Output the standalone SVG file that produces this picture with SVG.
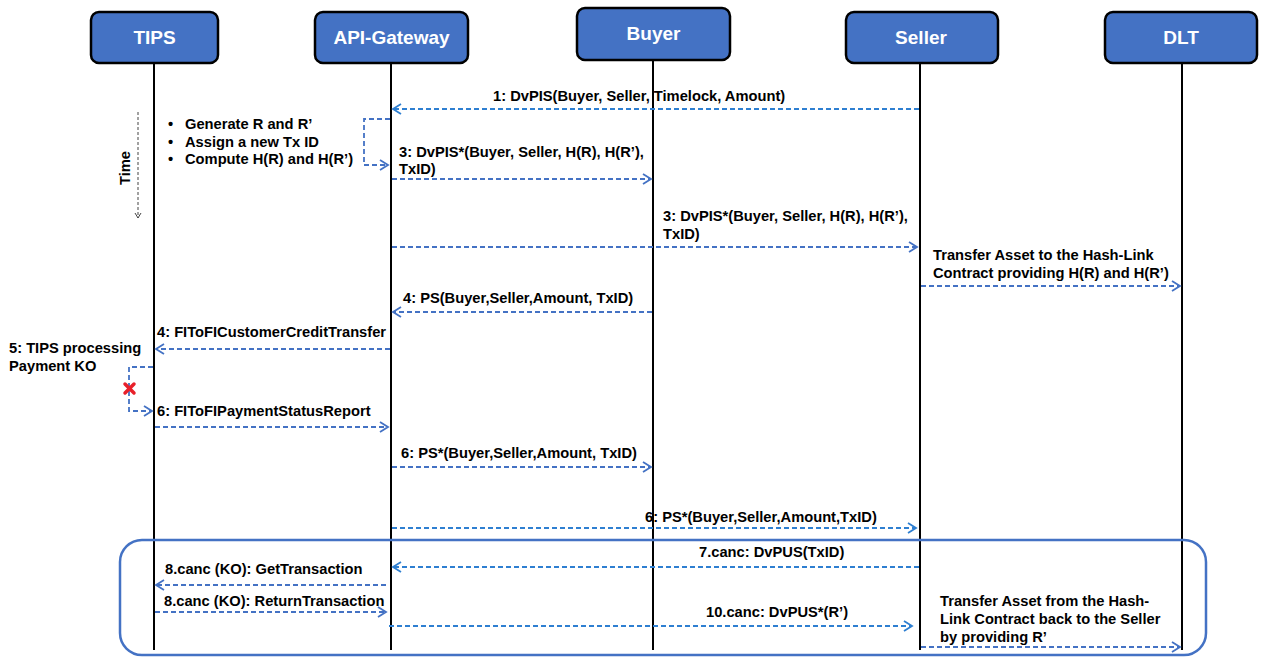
<svg xmlns="http://www.w3.org/2000/svg" width="1261" height="657" viewBox="0 0 1261 657">
<style>
.box{fill:#4472C4;stroke:#000;stroke-width:2.5}
.hd{font-family:"Liberation Sans",Arial,sans-serif;font-weight:bold;font-size:19px;fill:#fff;text-anchor:middle}
.life{stroke:#000;stroke-width:2}
.t{font-family:"Liberation Sans",Arial,sans-serif;font-weight:bold;font-size:14.7px;fill:#000}
.m{fill:none;stroke:#4472C4;stroke-width:1.8;stroke-dasharray:5 3;marker-end:url(#ah)}
.mb{fill:none;stroke:#2E7FD1;stroke-width:1.8;stroke-dasharray:5 3;marker-end:url(#ahb)}
</style>
<defs>
<marker id="ah" markerUnits="userSpaceOnUse" markerWidth="12" markerHeight="14" refX="9" refY="6" orient="auto">
<path d="M1,1 L9,6 L1,11" fill="none" stroke="#4472C4" stroke-width="1.8"/>
</marker>
<marker id="ahb" markerUnits="userSpaceOnUse" markerWidth="12" markerHeight="14" refX="9" refY="6" orient="auto">
<path d="M1,1 L9,6 L1,11" fill="none" stroke="#2E7FD1" stroke-width="1.8"/>
</marker>
<marker id="ahk" markerUnits="userSpaceOnUse" markerWidth="10" markerHeight="10" refX="6" refY="4" orient="auto">
<path d="M1,1 L6,4 L1,7" fill="none" stroke="#444" stroke-width="1"/>
</marker>
</defs>
<rect width="1261" height="657" fill="#fff"/>

<g id="lifelines">
<line class="life" x1="154" y1="63" x2="154" y2="650"/>
<line class="life" x1="391" y1="63" x2="391" y2="650"/>
<line class="life" x1="653" y1="60" x2="653" y2="650"/>
<line class="life" x1="920" y1="63" x2="920" y2="650"/>
<line class="life" x1="1182" y1="63" x2="1182" y2="650"/>
</g>

<g id="node-tips"><rect class="box" x="91" y="12" width="127" height="51" rx="8"/><text class="hd" x="154.5" y="44">TIPS</text></g>
<g id="node-api"><rect class="box" x="315" y="12" width="153" height="51" rx="8"/><text class="hd" x="391.5" y="44">API-Gateway</text></g>
<g id="node-buyer"><rect class="box" x="577" y="8" width="153" height="52" rx="8"/><text class="hd" x="653.5" y="40">Buyer</text></g>
<g id="node-seller"><rect class="box" x="846" y="12" width="152" height="51" rx="8"/><text class="hd" x="921" y="44">Seller</text></g>
<g id="node-dlt"><rect class="box" x="1105" y="12" width="152" height="51" rx="8"/><text class="hd" x="1181" y="44">DLT</text></g>

<g id="time">
<line x1="138" y1="112" x2="138" y2="218" stroke="#444" stroke-width="1" stroke-dasharray="3 2" marker-end="url(#ahk)"/>
<text class="t" transform="translate(130,168) rotate(-90)" text-anchor="middle">Time</text>
</g>

<g id="cancel-frame">
<rect x="120" y="540" width="1086" height="115" rx="22" fill="none" stroke="#4472C4" stroke-width="2.5"/>
</g>

<g id="connectors">
<path class="mb" d="M919,109 H393"/>
<path class="m" d="M390,119 H364 V165 H388"/>
<path class="m" d="M392,179 H651"/>
<path class="m" d="M392,247 H917"/>
<path class="m" d="M921,286 H1180"/>
<path class="m" d="M652,312 H393"/>
<path class="m" d="M390,349 H156"/>
<path class="m" d="M153,367 H129 V411 H152"/>
<path class="m" d="M155,427 H388"/>
<path class="m" d="M392,467 H651"/>
<path class="mb" d="M392,528 H916"/>
<path class="mb" d="M919,567 H393"/>
<path class="m" d="M386,585 H156"/>
<path class="m" d="M155,612 H386"/>
<path class="mb" d="M389,626 H912"/>
<path class="m" d="M921,647 H1180"/>
</g>

<g id="ko-mark" stroke="#E8202A" stroke-width="3.5" stroke-linecap="round">
<line x1="125" y1="384" x2="134" y2="393"/>
<line x1="134" y1="384" x2="125" y2="393"/>
</g>

<g id="labels">
<text class="t" x="493" y="101">1: DvPIS(Buyer, Seller, Timelock, Amount)</text>
<text class="t" x="168" y="129">•</text><text class="t" x="185" y="129">Generate R and R’</text>
<text class="t" x="168" y="147">•</text><text class="t" x="185" y="147">Assign  a new Tx ID</text>
<text class="t" x="168" y="164">•</text><text class="t" x="185" y="164">Compute H(R) and H(R’)</text>
<text class="t" x="399" y="157">3: DvPIS*(Buyer, Seller, H(R), H(R’),</text>
<text class="t" x="399" y="174">TxID)</text>
<text class="t" x="663" y="221">3: DvPIS*(Buyer, Seller, H(R), H(R’),</text>
<text class="t" x="663" y="239">TxID)</text>
<text class="t" x="933" y="260">Transfer Asset to the Hash-Link</text>
<text class="t" x="933" y="278">Contract providing H(R) and H(R’)</text>
<text class="t" x="403" y="303">4: PS(Buyer,Seller,Amount, TxID)</text>
<text class="t" x="157" y="337">4: FIToFICustomerCreditTransfer</text>
<text class="t" x="9" y="353">5: TIPS processing</text>
<text class="t" x="9" y="371">Payment KO</text>
<text class="t" x="157" y="416">6: FIToFIPaymentStatusReport</text>
<text class="t" x="401" y="458">6: PS*(Buyer,Seller,Amount, TxID)</text>
<text class="t" x="645" y="522">6: PS*(Buyer,Seller,Amount,TxID)</text>
<text class="t" x="699" y="557">7.canc: DvPUS(TxID)</text>
<text class="t" x="165" y="574">8.canc (KO): GetTransaction</text>
<text class="t" x="164" y="606">8.canc (KO): ReturnTransaction</text>
<text class="t" x="706" y="617">10.canc: DvPUS*(R’)</text>
<text class="t" x="940" y="606">Transfer Asset from the Hash-</text>
<text class="t" x="940" y="624">Link Contract back to the Seller</text>
<text class="t" x="940" y="642">by providing R’</text>
</g>
</svg>
